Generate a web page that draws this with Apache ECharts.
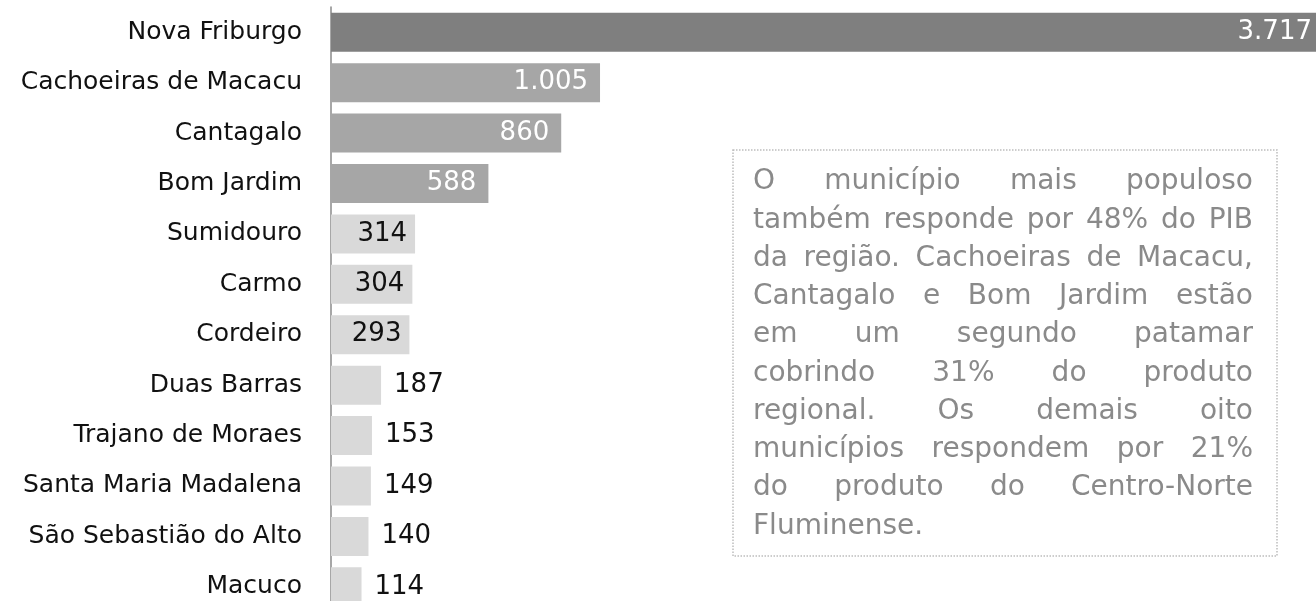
<!DOCTYPE html>
<html>
<head>
<meta charset="utf-8">
<script src="https://cdn.jsdelivr.net/npm/echarts@6/dist/echarts.min.js"></script>
<style>
  html, body { margin: 0; padding: 0; background: #fff; }
  #chart { width: 1316px; height: 601px; }
</style>
</head>
<body>
<div id="chart"></div>
<script>
// municípios e PIB (R$ milhões)
const municipios = ['Nova Friburgo', 'Cachoeiras de Macacu', 'Cantagalo', 'Bom Jardim', 'Sumidouro', 'Carmo',
    'Cordeiro', 'Duas Barras', 'Trajano de Moraes', 'Santa Maria Madalena', 'São Sebastião do Alto', 'Macuco'];
const pib = [3717, 1005, 860, 588, 314, 304, 293, 187, 153, 149, 140, 114];

const noteLines = [
    'O município mais populoso',
    'também responde por 48% do PIB',
    'da região. Cachoeiras de Macacu,',
    'Cantagalo e Bom Jardim estão',
    'em um segundo patamar',
    'cobrindo 31% do produto',
    'regional. Os demais oito',
    'municípios respondem por 21%',
    'do produto do Centro-Norte',
    'Fluminense.'
];

const FONT = "'DejaVu Sans', sans-serif";

function fmt(v) {
    return String(v).replace(/\B(?=(\d{3})+(?!\d))/g, '.');
}

// cor e rótulo conforme o patamar
function barItem(v, i) {
    let color, label;
    if (i === 0) {
        color = '#7f7f7f';
        label = { position: 'insideRight', distance: 14, color: '#fff' };
    } else if (v >= 500) {
        color = '#a6a6a6';
        label = { position: 'insideRight', distance: 12, color: '#fff' };
    } else if (v >= 250) {
        color = '#d9d9d9';
        label = { position: 'insideRight', distance: 8, color: '#111' };
    } else {
        color = '#d9d9d9';
        label = { position: 'right', distance: 13, color: '#111' };
    }
    return { value: v, itemStyle: { color: color }, label: label };
}

// texto justificado da nota
function buildNote() {
    const boxX = 733, boxY = 150, boxW = 544, boxH = 406;
    const textX = 753, textW = 500, firstBase = 192, lineH = 38.25;
    const font = '28px ' + FONT;
    const ctx = document.createElement('canvas').getContext('2d');
    ctx.font = font;
    const els = [{
        type: 'rect',
        shape: { x: boxX, y: boxY, width: boxW, height: boxH },
        style: { fill: null, stroke: '#bdbdbd', lineWidth: 1.5, lineDash: [1.5, 1.5] }
    }];
    noteLines.forEach(function (line, li) {
        const words = line.split(' ');
        const widths = words.map(w => ctx.measureText(w).width);
        const sum = widths.reduce((a, b) => a + b, 0);
        const last = li === noteLines.length - 1;
        const gap = (last || words.length < 2) ? ctx.measureText(' ').width : (textW - sum) / (words.length - 1);
        let x = textX;
        words.forEach(function (w, wi) {
            els.push({
                type: 'text',
                style: {
                    x: x, y: firstBase + li * lineH - 10, text: w, font: font,
                    fill: '#8a8a8a', verticalAlign: 'middle', align: 'left'
                }
            });
            x += widths[wi] + gap;
        });
    });
    return els;
}

let chart = echarts.init(document.getElementById('chart'));
let option = {
    animation: false,
    grid: { left: 331, right: -10, top: 7, bottom: -11, outerBoundsMode: 'none', containLabel: false },
    xAxis: { type: 'value', min: 0, max: 'dataMax', show: false },
    yAxis: {
        type: 'category',
        inverse: true,
        data: municipios,
        axisLine: { lineStyle: { color: '#8a8a8a', width: 1.5 } },
        axisTick: { length: 8, lineStyle: { color: '#8a8a8a', width: 1.5 } },
        axisLabel: { margin: 29, fontSize: 25, fontFamily: FONT, color: '#111' }
    },
    series: [{
        type: 'bar',
        barWidth: 39,
        data: pib.map(barItem),
        label: {
            show: true, fontSize: 26, fontFamily: FONT,
            formatter: p => fmt(p.value)
        }
    }],
    graphic: buildNote()
};
chart.setOption(option);
</script>
</body>
</html>
